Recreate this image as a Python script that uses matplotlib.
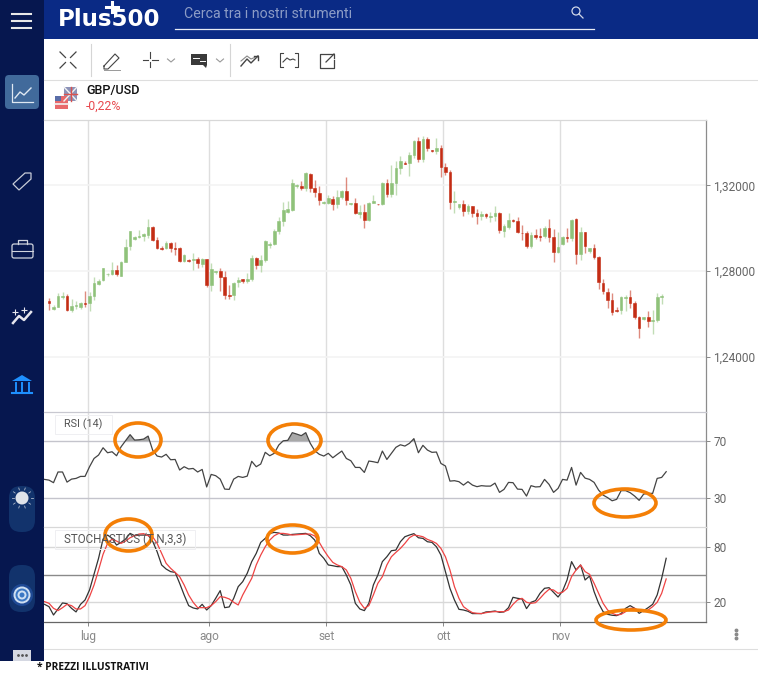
import matplotlib
matplotlib.use("Agg")
import matplotlib.pyplot as plt
from matplotlib.patches import Ellipse, FancyBboxPatch, Rectangle, Circle, Polygon
import numpy as np

W, H = 758, 675

open_p = [1.2661, 1.2625, 1.2634, 1.2678, 1.2686, 1.2620, 1.2636, 1.2631, 1.2651, 1.2651,
          1.2684, 1.2740, 1.2757, 1.2785, 1.2785, 1.2805, 1.2780, 1.2845, 1.2916, 1.2952,
          1.2958, 1.2966, 1.2968, 1.3006, 1.2944, 1.2907, 1.2906, 1.2930, 1.2907, 1.2906,
          1.2848, 1.2851, 1.2851, 1.2859, 1.2834, 1.2856, 1.2735, 1.2796, 1.2800, 1.2772,
          1.2689, 1.2690, 1.2751, 1.2763, 1.2754, 1.2763, 1.2861, 1.2828, 1.2850, 1.2924,
          1.2926, 1.2986, 1.3033, 1.3078, 1.3085, 1.3197, 1.3199, 1.3188, 1.3254, 1.3186,
          1.3166, 1.3118, 1.3120, 1.3135, 1.3113, 1.3144, 1.3174, 1.3113, 1.3116, 1.3068,
          1.3078, 1.3039, 1.3120, 1.3115, 1.3115, 1.3213, 1.3158, 1.3211, 1.3279, 1.3304,
          1.3304, 1.3341, 1.3408, 1.3321, 1.3414, 1.3366, 1.3360, 1.3372, 1.3284, 1.3262,
          1.3123, 1.3098, 1.3112, 1.3081, 1.3102, 1.3070, 1.3057, 1.3065, 1.3054, 1.3056,
          1.3070, 1.2986, 1.3006, 1.3037, 1.3036, 1.2980, 1.2980, 1.2918, 1.2971, 1.2963,
          1.2963, 1.3003, 1.2961, 1.2889, 1.2929, 1.2961, 1.2957, 1.3042, 1.2878, 1.2985,
          1.2895, 1.2906, 1.2868, 1.2747, 1.2704, 1.2664, 1.2619, 1.2617, 1.2676, 1.2679,
          1.2651, 1.2586, 1.2579, 1.2586, 1.2568, 1.2571, 1.2681]
high_p = [1.2675, 1.2642, 1.2698, 1.2703, 1.2693, 1.2670, 1.2662, 1.2658, 1.2706, 1.2701,
          1.2775, 1.2766, 1.2817, 1.2791, 1.2845, 1.2828, 1.2847, 1.2949, 1.2988, 1.2965,
          1.2992, 1.2977, 1.3045, 1.3009, 1.2961, 1.2916, 1.2943, 1.2935, 1.2935, 1.2915,
          1.2878, 1.2859, 1.2887, 1.2864, 1.2861, 1.2859, 1.2837, 1.2802, 1.2817, 1.2800,
          1.2735, 1.2751, 1.2771, 1.2765, 1.2794, 1.2875, 1.2868, 1.2875, 1.2944, 1.2935,
          1.2999, 1.3053, 1.3121, 1.3129, 1.3228, 1.3208, 1.3220, 1.3262, 1.3257, 1.3223,
          1.3199, 1.3126, 1.3155, 1.3149, 1.3177, 1.3180, 1.3237, 1.3120, 1.3140, 1.3107,
          1.3112, 1.3123, 1.3157, 1.3115, 1.3217, 1.3228, 1.3296, 1.3312, 1.3337, 1.3312,
          1.3357, 1.3412, 1.3425, 1.3429, 1.3426, 1.3366, 1.3422, 1.3388, 1.3304, 1.3270,
          1.3174, 1.3113, 1.3133, 1.3112, 1.3102, 1.3090, 1.3082, 1.3070, 1.3076, 1.3102,
          1.3078, 1.3022, 1.3070, 1.3044, 1.3054, 1.3014, 1.2986, 1.2983, 1.2996, 1.3003,
          1.3012, 1.3045, 1.2999, 1.2982, 1.2965, 1.3000, 1.3044, 1.3047, 1.3006, 1.2985,
          1.2910, 1.2926, 1.2871, 1.2766, 1.2720, 1.2698, 1.2631, 1.2686, 1.2689, 1.2713,
          1.2659, 1.2592, 1.2588, 1.2613, 1.2617, 1.2698, 1.2693]
low_p = [1.2620, 1.2620, 1.2631, 1.2670, 1.2616, 1.2611, 1.2624, 1.2624, 1.2634, 1.2616,
         1.2664, 1.2735, 1.2754, 1.2779, 1.2782, 1.2780, 1.2777, 1.2842, 1.2899, 1.2946,
         1.2955, 1.2940, 1.2955, 1.2940, 1.2903, 1.2901, 1.2903, 1.2889, 1.2876, 1.2845,
         1.2845, 1.2845, 1.2805, 1.2817, 1.2819, 1.2726, 1.2709, 1.2789, 1.2709, 1.2670,
         1.2670, 1.2665, 1.2726, 1.2746, 1.2747, 1.2755, 1.2810, 1.2797, 1.2844, 1.2906,
         1.2921, 1.2972, 1.3009, 1.3073, 1.3079, 1.3189, 1.3177, 1.3172, 1.3168, 1.3144,
         1.3107, 1.3113, 1.3112, 1.3085, 1.3093, 1.3135, 1.3107, 1.3110, 1.3065, 1.3048,
         1.3002, 1.3033, 1.3116, 1.3110, 1.3107, 1.3144, 1.3144, 1.3154, 1.3253, 1.3298,
         1.3245, 1.3329, 1.3309, 1.3309, 1.3358, 1.3354, 1.3346, 1.3237, 1.3247, 1.3089,
         1.3070, 1.3089, 1.3057, 1.3068, 1.3053, 1.3019, 1.3037, 1.3047, 1.3030, 1.3036,
         1.2977, 1.2961, 1.2996, 1.3030, 1.2978, 1.2944, 1.2906, 1.2907, 1.2952, 1.2940,
         1.2957, 1.2935, 1.2842, 1.2884, 1.2924, 1.2935, 1.2940, 1.2834, 1.2850, 1.2885,
         1.2884, 1.2856, 1.2717, 1.2692, 1.2627, 1.2596, 1.2608, 1.2602, 1.2614, 1.2630,
         1.2579, 1.2487, 1.2572, 1.2541, 1.2507, 1.2565, 1.2647]
close_p = [1.2651, 1.2634, 1.2684, 1.2684, 1.2620, 1.2637, 1.2642, 1.2651, 1.2647, 1.2686,
           1.2744, 1.2755, 1.2814, 1.2789, 1.2805, 1.2785, 1.2845, 1.2915, 1.2986, 1.2958,
           1.2965, 1.2972, 1.3006, 1.2944, 1.2910, 1.2904, 1.2930, 1.2907, 1.2904, 1.2847,
           1.2875, 1.2848, 1.2858, 1.2836, 1.2858, 1.2735, 1.2810, 1.2800, 1.2774, 1.2689,
           1.2684, 1.2746, 1.2758, 1.2754, 1.2763, 1.2861, 1.2830, 1.2851, 1.2943, 1.2927,
           1.2986, 1.3033, 1.3085, 1.3089, 1.3209, 1.3203, 1.3186, 1.3259, 1.3188, 1.3168,
           1.3132, 1.3123, 1.3140, 1.3112, 1.3144, 1.3175, 1.3130, 1.3116, 1.3070, 1.3078,
           1.3039, 1.3120, 1.3126, 1.3112, 1.3213, 1.3158, 1.3213, 1.3279, 1.3312, 1.3299,
           1.3341, 1.3408, 1.3321, 1.3414, 1.3375, 1.3361, 1.3372, 1.3284, 1.3262, 1.3121,
           1.3126, 1.3112, 1.3081, 1.3102, 1.3070, 1.3056, 1.3065, 1.3056, 1.3056, 1.3070,
           1.2991, 1.3009, 1.3040, 1.3034, 1.2982, 1.2977, 1.2918, 1.2971, 1.2960, 1.2960,
           1.3002, 1.2960, 1.2890, 1.2915, 1.2960, 1.2955, 1.3039, 1.2878, 1.2985, 1.2918,
           1.2906, 1.2868, 1.2749, 1.2710, 1.2665, 1.2608, 1.2613, 1.2679, 1.2681, 1.2651,
           1.2585, 1.2535, 1.2585, 1.2569, 1.2572, 1.2679, 1.2684]

rsi = [43.3, 42.8, 41.0, 48.5, 48.5, 41.4, 43.5, 44.0, 45.4, 45.4,
       52.2, 58.0, 60.4, 65.5, 62.0, 62.7, 59.9, 66.2, 70.4, 74.7,
       70.9, 71.1, 71.6, 73.7, 63.9, 59.7, 59.0, 60.9, 57.1, 57.3,
       49.9, 52.2, 50.6, 51.0, 48.5, 50.3, 38.0, 46.8, 45.9, 43.5,
       36.5, 36.3, 43.5, 45.4, 44.7, 45.6, 56.0, 52.2, 54.1, 62.3,
       59.9, 61.6, 67.4, 70.4, 70.7, 76.1, 75.1, 74.0, 76.1, 68.6,
       63.4, 60.9, 59.7, 61.6, 58.5, 60.9, 63.2, 58.0, 56.4, 51.7,
       51.7, 48.2, 56.2, 55.7, 55.0, 63.2, 57.3, 61.6, 65.8, 67.6,
       66.7, 68.6, 71.9, 62.0, 67.2, 63.9, 62.3, 62.5, 54.5, 52.7,
       42.1, 42.4, 41.7, 39.3, 41.7, 39.3, 38.2, 38.9, 38.6, 38.6,
       40.7, 34.2, 36.3, 41.2, 41.0, 36.5, 36.3, 31.6, 38.9, 38.0,
       38.2, 43.3, 39.8, 34.2, 37.0, 43.3, 42.8, 51.7, 39.3, 48.2,
       44.2, 43.3, 41.2, 35.8, 32.3, 30.5, 28.3, 29.3, 35.4, 35.4,
       34.0, 31.6, 28.6, 33.0, 33.5, 33.5, 44.0, 44.7, 48.7]

stoch_k = [17.8, 15.3, 6.3, 12.8, 19.3, 18.5, 13.5, 9.6, 17.8, 22.5,
           33.3, 50.2, 67.5, 88.3, 92.6, 89.0, 81.8, 84.7, 88.3, 94.4,
           91.9, 92.6, 92.6, 92.6, 86.0, 74.6, 60.3, 55.9, 53.1, 52.3,
           40.5, 27.9, 16.4, 13.9, 12.8, 17.8, 11.7, 16.4, 24.3, 32.6,
           14.2, 15.0, 24.3, 36.9, 42.3, 51.3, 63.9, 72.8, 84.7, 89.0,
           94.4, 95.5, 94.8, 92.6, 92.6, 93.3, 93.7, 94.1, 94.4, 91.9,
           87.2, 72.8, 67.5, 60.3, 59.5, 58.5, 58.5, 49.5, 38.7, 18.9,
           12.8, 11.0, 18.9, 38.7, 49.5, 63.9, 69.2, 75.7, 76.4, 85.4,
           90.8, 92.6, 94.1, 89.7, 89.0, 85.4, 84.7, 80.0, 71.0, 53.1,
           35.1, 22.5, 12.4, 11.7, 10.3, 7.8, 7.8, 7.8, 9.6, 9.9,
           10.6, 9.2, 9.6, 14.2, 25.4, 24.3, 23.6, 13.2, 20.0, 21.8,
           29.7, 35.1, 35.8, 30.8, 25.7, 32.2, 44.1, 63.9, 54.9, 60.3,
           44.1, 48.4, 31.5, 18.9, 9.9, 7.0, 6.0, 5.6, 7.8, 13.5,
           16.4, 13.5, 8.1, 11.0, 14.2, 17.8, 27.9, 45.9, 67.5]
stoch_d = [20.7, 18.9, 13.5, 11.0, 14.2, 17.8, 16.4, 12.8, 12.8, 16.4,
           26.1, 38.7, 54.9, 71.8, 83.6, 88.3, 86.1, 83.6, 86.1, 89.7,
           91.9, 93.7, 94.1, 91.9, 90.8, 83.6, 72.8, 62.1, 56.7, 52.3,
           47.7, 38.7, 27.9, 20.0, 14.2, 14.2, 14.2, 16.4, 20.7, 26.1,
           25.4, 23.6, 20.0, 17.1, 27.9, 36.9, 45.9, 60.3, 71.0, 80.0,
           87.2, 91.9, 94.4, 94.4, 93.7, 92.6, 93.0, 93.3, 93.7, 93.7,
           91.6, 84.7, 76.4, 69.2, 63.1, 60.3, 58.5, 54.9, 45.9, 31.5,
           20.0, 13.5, 16.4, 27.9, 40.5, 47.7, 60.3, 69.2, 73.9, 78.2,
           83.6, 89.7, 92.6, 91.9, 90.8, 87.9, 86.1, 83.6, 78.2, 69.2,
           54.9, 36.9, 24.3, 15.3, 11.7, 8.8, 8.1, 7.8, 8.8, 9.6,
           9.9, 9.9, 9.9, 11.7, 17.8, 22.5, 24.3, 20.0, 18.9, 19.6,
           24.3, 29.7, 34.0, 33.3, 29.7, 30.8, 35.1, 47.7, 54.9, 60.3,
           53.1, 50.2, 40.5, 29.7, 18.9, 11.7, 8.1, 6.3, 7.0, 9.9,
           13.5, 13.5, 11.0, 9.9, 11.7, 15.3, 20.0, 29.7, 45.2]

month_labels = ["lug", "ago", "set", "ott", "nov"]
month_pos = [8.59, 35.58, 61.55, 87.52, 113.5]
price_ticks = [1.24, 1.28, 1.32]
price_labels = ["1,24000", "1,28000", "1,32000"]
rsi_ticks = [30, 70]
stoch_ticks = [20, 80]

GREEN = "#8fc27a"
RED = "#c42c14"
NAVY = "#06174f"
BLUE = "#0a2a85"
ORANGE = "#f47f06"
TICK_COL = "#666666"

plt.rcParams["font.family"] = ["Roboto", "DejaVu Sans"]

fig = plt.figure(figsize=(W / 100, H / 100), dpi=100, facecolor="white")


def px_axes(left, top, right, bottom, **kw):
    return fig.add_axes([left / W, 1 - bottom / H, (right - left) / W, (bottom - top) / H], **kw)


back = px_axes(0, 0, W, H, zorder=0)
back.set_xlim(0, W)
back.set_ylim(H, 0)
back.axis("off")

front = px_axes(0, 0, W, H, zorder=10)
front.set_xlim(0, W)
front.set_ylim(H, 0)
front.axis("off")
front.patch.set_alpha(0)


def style_pane(ax, ylim, ticks, labels, top_col):
    ax.set_xlim(-1.11, 145.84)
    ax.set_ylim(*ylim)
    ax.patch.set_alpha(0)
    for s in ["left", "bottom"]:
        ax.spines[s].set_visible(False)
    ax.spines["top"].set_color(top_col)
    ax.spines["top"].set_linewidth(0.9)
    ax.spines["right"].set_color("#8c8c8c")
    ax.spines["right"].set_linewidth(0.9)
    ax.yaxis.tick_right()
    ax.set_yticks(ticks)
    ax.set_yticklabels(labels, fontsize=8.6, color=TICK_COL)
    ax.tick_params(axis="y", length=2.6, width=0.7, color="#888888", pad=2.5)
    ax.set_xticks(month_pos)
    ax.tick_params(axis="x", length=0, labelbottom=False)
    ax.grid(axis="x", color="#dedede", lw=1.0)
    ax.set_axisbelow(True)


# candele
price_ax = px_axes(44, 119.5, 706, 412, zorder=2)
style_pane(price_ax, (1.2144, 1.3507), price_ticks, price_labels, "#d8d8d8")
price_ax.grid(axis="y", color="#f3f3f3", lw=1.2)
x = np.arange(len(open_p))
o = np.array(open_p)
c = np.array(close_p)
cols = [GREEN if b >= a else RED for a, b in zip(o, c)]
price_ax.vlines(x, low_p, high_p, colors=cols, lw=1.0, alpha=0.55)
price_ax.bar(x, np.abs(c - o), bottom=np.minimum(o, c), width=0.6, color=cols, edgecolor=cols, lw=0.4)

# RSI
rsi_ax = px_axes(44, 412, 706, 527, zorder=2)
style_pane(rsi_ax, (9.9, 90.6), rsi_ticks, ["30", "70"], "#c8c8d0")
rsi_ax.grid(axis="y", color="#c4c4cc", lw=1.0)
xi = np.arange(-1, len(rsi) - 1)
rsi_ax.fill_between(xi, rsi, 70, where=np.array(rsi) >= 70, interpolate=True, color="#a8a8a8", lw=0)
rsi_ax.plot(xi, rsi, color="#444444", lw=0.9)

# stocastico
st_ax = px_axes(44, 527, 706, 622.3, zorder=2)
style_pane(st_ax, (-1.6, 101.3), stoch_ticks, ["20", "80"], "#d8d8d8")
st_ax.grid(axis="y", color="#d8d8d8", lw=1.0)
st_ax.axhline(50, color="#8a8a8a", lw=1.0)
st_ax.spines["bottom"].set_visible(True)
st_ax.spines["bottom"].set_color("#666666")
st_ax.spines["bottom"].set_linewidth(0.9)
st_ax.set_xticklabels(month_labels)
st_ax.tick_params(axis="x", length=3, width=0.7, color="#888888", labelbottom=True,
                  labelsize=8.6, labelcolor="#8a8a8a", pad=2.5)
st_ax.plot(xi, stoch_k, color="#333333", lw=0.9)
st_ax.plot(xi, stoch_d, color="#ee4444", lw=0.9)

# etichette indicatori
for (l, t, r, b, s, fs) in [(55, 415, 112, 434, "RSI (14)", 7.8),
                            (55, 530, 195, 549, "STOCHASTICS (T,N,3,3)", 8.4)]:
    front.add_patch(Rectangle((l, t), r - l, b - t, fc="none", ec="#efeff2", lw=0.7))
    front.text(l + 9, (t + b) / 2, s, fontsize=fs, color="#555555", va="center")

# ovali arancioni
for (l, t, r, b) in [(115, 423, 161, 457), (268, 424, 321, 457), (594, 489, 656, 517),
                     (105, 519, 152, 551), (267, 525, 318, 553), (596, 610, 666, 630)]:
    front.add_patch(Ellipse(((l + r) / 2, (t + b) / 2), r - l, b - t, fc="none", ec=ORANGE, lw=2.6))

# barra superiore
back.add_patch(Rectangle((44, 0), W - 44, 39, fc=BLUE, ec="none"))
back.add_patch(Rectangle((0, 0), 44, 661, fc=NAVY, ec="none"))
for yy in [14, 21, 28]:
    back.plot([12, 31], [yy, yy], color="#e8e8e8", lw=1.5)
back.text(58, 26.5, "Plus500", fontsize=16.5, fontweight="bold", color="white", family="DejaVu Sans",
          va="baseline")
back.plot([106, 118], [6.5, 6.5], color="white", lw=2.2)
back.plot([112, 112], [2, 12], color="white", lw=2.2)
back.text(184, 13.5, "Cerca tra i nostri strumenti", fontsize=10.2, color="#8c9cc6", va="center")
back.plot([175, 594], [28.5, 28.5], color="#e8ecf5", lw=0.9)
back.add_patch(Circle((576, 11), 4, fc="none", ec="#cfd6e8", lw=0.9))
back.plot([579, 583], [14, 18], color="#cfd6e8", lw=0.9)

# toolbar
back.plot([44, W], [79.5, 79.5], color="#dedede", lw=0.8)
for xx in [90.5, 229.5]:
    back.plot([xx, xx], [44, 76], color="#d5d5d5", lw=0.8)
ICON = "#444444"
for dx, dy in [(-1, -1), (1, -1), (-1, 1), (1, 1)]:
    back.plot([68 + dx * 2.5, 68 + dx * 8], [60 + dy * 2.5, 60 + dy * 8], color=ICON, lw=0.9)
back.plot([104, 115, 119, 108, 104, 104], [66, 54, 58, 69, 69, 66], color=ICON, lw=0.8)
back.plot([104, 120], [69.5, 69.5], color="#999999", lw=0.7)
back.plot([143, 148], [60, 60], color=ICON, lw=0.8)
back.plot([152, 158], [60, 60], color=ICON, lw=0.8)
back.plot([150, 150], [52, 58], color=ICON, lw=0.8)
back.plot([150, 150], [62, 67], color=ICON, lw=0.8)
for xx in [171, 220]:
    back.plot([xx - 3.5, xx, xx + 3.5], [59, 62, 59], color="#999999", lw=0.8)
back.add_patch(Polygon([(191, 54), (207, 54), (207, 65), (206, 68), (203, 65), (191, 65)], fc="#3a3a3a", ec="none"))
back.plot([193, 199], [58, 58], color="white", lw=0.7)
back.plot([200, 205], [61, 61], color="white", lw=0.7)
back.plot([241, 247, 251, 258], [66, 59, 63, 56], color=ICON, lw=1.0)
back.plot([241, 247, 251, 258], [61, 56, 59, 56], color="#888888", lw=0.8)
back.plot([254, 258, 258], [56, 56, 60], color=ICON, lw=1.0)
back.plot([283, 280, 280, 283], [53, 53, 67, 67], color=ICON, lw=0.8)
back.plot([295, 298, 298, 295], [53, 53, 67, 67], color=ICON, lw=0.8)
back.plot([283, 287, 290, 293, 295], [62, 58, 60, 59, 60], color=ICON, lw=0.8)
back.plot([328, 320, 320, 334, 334], [54, 54, 68, 68, 60], color=ICON, lw=0.9)
back.plot([326, 334], [62, 54], color=ICON, lw=0.9)
back.plot([329, 334, 334], [54, 54, 58], color=ICON, lw=0.9)

# intestazione strumento
back.text(86, 90.5, "GBP/USD", fontsize=9.1, fontweight="medium", color="#111111", va="center")
back.text(86, 106, "-0,22%", fontsize=8.8, color="#e8494f", va="center")
back.add_patch(Rectangle((64, 87), 13, 14, fc="#8c93b8", ec="none"))
back.plot([64, 77], [87, 101], color="#f3f3f3", lw=1.0)
back.plot([64, 77], [101, 87], color="#f3f3f3", lw=1.0)
back.plot([70.5, 70.5], [87, 101], color="#d9534f", lw=1.0)
back.plot([64, 77], [94, 94], color="#d9534f", lw=1.0)
back.add_patch(Rectangle((55, 96), 13, 13, fc="#e8696b", ec="none"))
back.add_patch(Rectangle((55, 96), 6, 5, fc="#5a6ea8", ec="none"))
back.plot([55, 68], [104, 104], color="#f2f2f2", lw=1.2)

# barra laterale
back.add_patch(FancyBboxPatch((5, 75), 34, 34, boxstyle="round,pad=0,rounding_size=4", fc="#416a9b", ec="none"))
back.plot([12, 12, 33], [84, 102, 102], color="#dfe8f2", lw=0.9)
back.plot([15, 20, 24, 31], [98, 92, 95, 88], color="#dfe8f2", lw=1.0)
back.add_patch(Polygon([(13, 184), (25, 173), (31, 173), (31, 179), (19, 190)], fc="none", ec="#c8ccd8", lw=0.9))
back.add_patch(FancyBboxPatch((12, 244), 21, 14, boxstyle="round,pad=0,rounding_size=2", fc="none", ec="#d0d4de", lw=0.9))
back.plot([18, 18, 27, 27], [244, 240, 240, 244], color="#d0d4de", lw=0.9)
back.plot([12, 33], [251, 251], color="#d0d4de", lw=0.8)
back.plot([13, 19, 24, 31], [323, 316, 320, 312], color="#e6e6ee", lw=1.8)
for (xx, yy) in [(15, 312), (24, 310)]:
    back.plot([xx], [yy], marker="+", ms=4, mew=0.8, color="#e6e6ee")
BANK = "#1e90ff"
back.add_patch(Polygon([(12, 381), (22, 375), (32, 381)], fc=BANK, ec="none"))
for xx in [15.5, 22, 28.5]:
    back.plot([xx, xx], [383, 391], color=BANK, lw=1.4)
back.plot([12, 32], [393, 393], color=BANK, lw=1.5)
back.add_patch(FancyBboxPatch((9, 486), 26, 46, boxstyle="round,pad=0,rounding_size=12", fc="#12336c", ec="none"))
back.add_patch(Circle((22, 498), 6.5, fc="#dfe3ea", ec="none"))
for a in np.linspace(0, 2 * np.pi, 10, endpoint=False):
    back.plot([22 + 8.5 * np.cos(a), 22 + 10.5 * np.cos(a)], [498 + 8.5 * np.sin(a), 498 + 10.5 * np.sin(a)],
              color="#aeb8cc", lw=0.6)
back.add_patch(FancyBboxPatch((9, 565), 26, 47, boxstyle="round,pad=0,rounding_size=12", fc="#12336c", ec="none"))
back.add_patch(Circle((22, 595), 11, fc="#1f4a95", ec="none"))
for rr, cc in [(8.5, "#cfe0f2"), (6.5, "#3b78c4"), (4.5, "#cfe0f2"), (2.5, "#3b78c4")]:
    back.add_patch(Circle((22, 595), rr, fc=cc, ec="none"))
back.add_patch(Rectangle((13, 650), 18, 11, fc="#d5d8e2", ec="none"))
back.plot([18, 22, 26], [655, 655, 655], ls="none", marker="o", ms=1, color="#555555")

# fondo pagina
back.plot([44, W], [648.5, 648.5], color="#dedede", lw=0.8)
back.plot([736, 736, 736], [630, 634, 638], ls="none", marker="o", ms=1.8, color="#8a8a8a")
back.text(37, 668, "* PREZZI ILLUSTRATIVI", fontsize=7.4, fontweight="bold", color="#111111", va="center",
          family="Open Sans")

fig.savefig("out.png", dpi=100, facecolor="white")
